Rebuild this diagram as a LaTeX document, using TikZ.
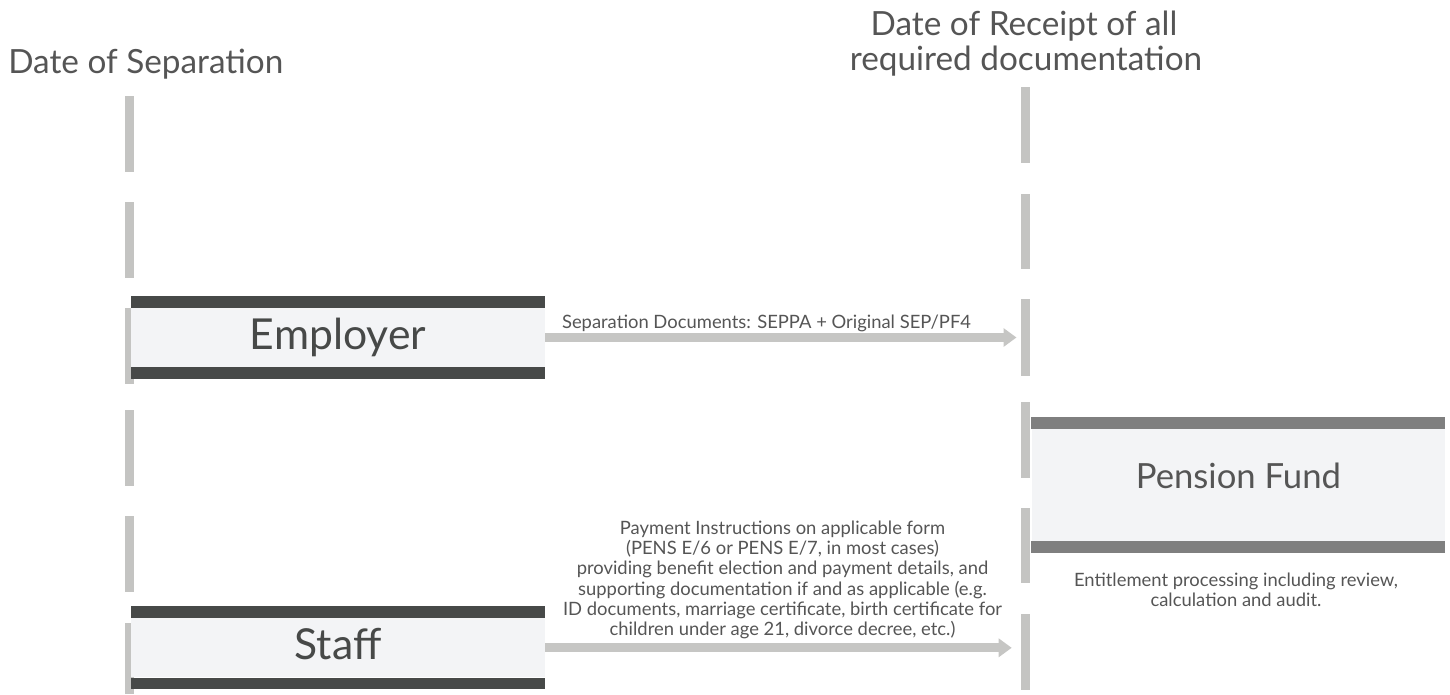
\documentclass[tikz,border=0pt]{standalone}
\usepackage{fontspec}
\setmainfont{Lato}
\usetikzlibrary{arrows.meta}
\definecolor{dashgray}{HTML}{C4C4C2}
\definecolor{arrowgray}{HTML}{C6C6C4}
\definecolor{boxfill}{HTML}{F3F4F6}
\definecolor{darkbar}{HTML}{474948}
\definecolor{midbar}{HTML}{7F7F7F}
\definecolor{txtgray}{HTML}{555555}
\definecolor{boxtxt}{HTML}{474948}
\tikzset{
  tick/.style={fill=dashgray},
  actorbox/.style={draw=none, fill=boxfill, inner sep=0pt, minimum width=310.5pt, minimum height=44.5pt},
  fundbox/.style={draw=none, fill=boxfill, inner sep=0pt, minimum width=310pt, minimum height=83.8pt},
  flow/.style={draw=arrowgray, line width=6.9pt, -{Triangle[length=9.75pt, width=13.5pt]}},
  title/.style={text=txtgray, font=\fontsize{25}{30}\selectfont, inner sep=0pt},
  actor/.style={text=boxtxt, font=\fontsize{32}{38}\selectfont, inner sep=0pt, anchor=base},
  fundtxt/.style={text=txtgray, font=\fontsize{26}{31}\selectfont, inner sep=0pt, anchor=base},
  note/.style={text=txtgray, font=\fontsize{13.8}{15.2}\selectfont, inner sep=0pt, align=center}
}
\begin{document}
\begin{tikzpicture}[x=0.75pt,y=-0.75pt]
\useasboundingbox (0,0) rectangle (1450,694);
% dashed timelines
\foreach \a/\b in {95.7/171.7, 202/278, 308/384, 410/486, 516/592, 623/694}
  \fill[tick] (125.3,\a) rectangle (134.3,\b);
\foreach \a/\b in {87.3/163, 193.7/269.3, 299.3/376, 401.7/477.7, 507.7/583.3, 614/690}
  \fill[tick] (1021.3,\a) rectangle (1030.3,\b);
% titles
\node[title, anchor=base west] (t1) at (8,73) {Date of Separation};
\node[title, anchor=base] (t2) at (1024,35) {Date of Receipt of all};
\node[title, anchor=base] (t3) at (1026,70) {required documentation};
% boxes
\node[actorbox] (emp) at (338,337.5) {};
\fill[darkbar] (emp.north west) rectangle ([yshift=8.7pt]emp.north east);
\fill[darkbar] (emp.south west) rectangle ([yshift=-8.6pt]emp.south east);
\node[actor] (empt) at (338,349) {Employer};
\node[actorbox] (stf) at (338,647.8) {};
\fill[darkbar] (stf.north west) rectangle ([yshift=8.7pt]stf.north east);
\fill[darkbar] (stf.south west) rectangle ([yshift=-8.8pt]stf.south east);
\node[actor] (stft) at (338,659) {Staff};
\node[fundbox] (pf) at (1238.4,485.2) {};
\fill[midbar] (pf.north west) rectangle ([yshift=8.7pt]pf.north east);
\fill[midbar] (pf.south west) rectangle ([yshift=-8.5pt]pf.south east);
\node[fundtxt] (pft) at (1238.4,488) {Pension Fund};
% arrows
\coordinate (r1) at (1016.5,337.5);
\coordinate (r2) at (1011.7,647.8);
\draw[flow] (emp.east) -- (r1);
\draw[flow] (stf.east) -- (r2);
% labels
\node[note, anchor=base] (l1) at (766.5,328) {Separation Documents: SEPPA + Original SEP/PF4};
\node[note] (l2) at (782.5,580) {Payment Instructions on applicable form\\(PENS E/6 or PENS E/7, in most cases)\\providing benefit election and payment details, and\\supporting documentation if and as applicable (e.g.\\ID documents, marriage certificate, birth certificate for\\children under age 21, divorce decree, etc.)};
\node[note] (l3) at (1236,589.5) {Entitlement processing including review,\\calculation and audit.};
\end{tikzpicture}
\end{document}
